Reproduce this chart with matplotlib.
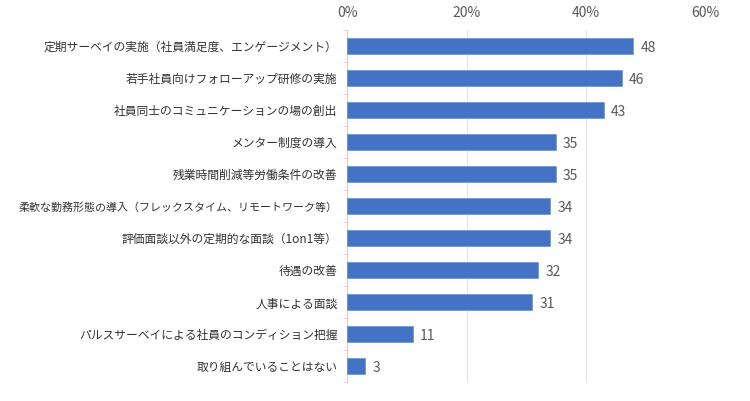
import matplotlib
matplotlib.use("Agg")
import matplotlib.pyplot as plt
import numpy as np

plt.rcParams["font.family"] = ["Noto Sans CJK JP", "DejaVu Sans"]

categories = [
    "定期サーベイの実施（社員満足度、エンゲージメント）",
    "若手社員向けフォローアップ研修の実施",
    "社員同士のコミュニケーションの場の創出",
    "メンター制度の導入",
    "残業時間削減等労働条件の改善",
    "柔軟な勤務形態の導入（フレックスタイム、リモートワーク等）",
    "評価面談以外の定期的な面談（1on1等）",
    "待遇の改善",
    "人事による面談",
    "パルスサーベイによる社員のコンディション把握",
    "取り組んでいることはない",
]
values = [48, 46, 43, 35, 35, 34, 34, 32, 31, 11, 3]
xticks = [0, 20, 40, 60]
xtick_labels = ["0%", "20%", "40%", "60%"]

fig = plt.figure(figsize=(7.5, 4.01), dpi=100)
ax = fig.add_axes([0.463, 0.047, 0.477, 0.878])

y = np.arange(len(categories))
ax.barh(y, values, height=0.5, color="#4472C4", edgecolor="#6a8fd3", linewidth=0.5, zorder=3)
for yi, v in zip(y, values):
    ax.text(v + 1.2, yi + 0.05, str(v), va="center", ha="left", fontsize=10, color="#595959")

ax.set_ylim(len(categories) - 0.5, -0.5)
ax.set_xlim(0, 60)
ax.set_yticks(y)
ax.set_yticklabels(categories, fontsize=8.5, color="#333333")
for lab in ax.get_yticklabels():
    if len(lab.get_text()) > 26:
        lab.set_fontsize(7.9)
ax.tick_params(axis="y", length=0, pad=7)
ax.set_yticks(np.arange(len(categories) + 1) - 0.5, minor=True)
ax.tick_params(axis="y", which="minor", length=3, color="#d0d0d0")

ax.xaxis.tick_top()
ax.set_xticks(xticks)
ax.set_xticklabels(xtick_labels, fontsize=10, color="#595959")
ax.tick_params(axis="x", length=0, pad=7)
ax.grid(axis="x", color="#e4e4e4", linewidth=0.8, zorder=0)

for s in ["top", "right", "bottom"]:
    ax.spines[s].set_visible(False)
ax.spines["left"].set_color("#d0d0d0")

fig.savefig("out.png", dpi=100)
